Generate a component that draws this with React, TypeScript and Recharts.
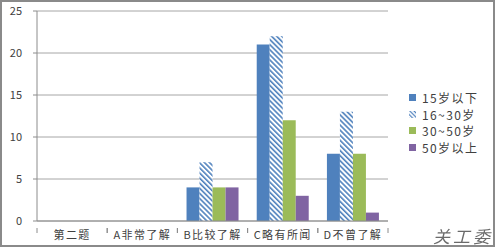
import React from "react";
import { BarChart, Bar, XAxis, YAxis, CartesianGrid } from "recharts";

const categories = ["第二题", "A非常了解", "B比较了解", "C略有所闻", "D不曾了解"];
const under15 = [0, 0, 4, 21, 8];
const age16to30 = [0, 0, 7, 22, 13];
const age30to50 = [0, 0, 4, 12, 8];
const over50 = [0, 0, 4, 3, 1];
const seriesNames = ["15岁以下", "16~30岁", "30~50岁", "50岁以上"];
const yTicks = [0, 5, 10, 15, 20, 25];

const data = categories.map((c, i) => ({
  name: c,
  s1: under15[i],
  s2: age16to30[i],
  s3: age30to50[i],
  s4: over50[i],
}));

const BLUE = "#4F81BD";
const GREEN = "#9BBB59";
const PURPLE = "#8064A2";
const FONT = "'Noto Sans CJK SC', 'Noto Sans', sans-serif";

const fills = [BLUE, "url(#hatch)", GREEN, PURPLE];

const XTick = (props: any) => {
  const { x, y, payload } = props;
  const half = payload && payload.offset ? payload.offset : 35;
  return (
    <g>
      <line x1={x - half} y1={y - 1} x2={x - half} y2={y + 4} stroke="#8c8c8c" />
      <line x1={x + half} y1={y - 1} x2={x + half} y2={y + 4} stroke="#8c8c8c" />
      <text
        x={x}
        y={y + 10}
        textAnchor="middle"
        fontSize={11}
        fill="#404040"
        fontFamily={FONT}
        letterSpacing={1.4}
      >
        {payload.value}
      </text>
    </g>
  );
};

const LegendBox = () => (
  <div
    style={{
      position: "absolute",
      left: 408,
      top: 89,
      fontFamily: FONT,
      fontSize: 12,
      color: "#404040",
    }}
  >
    {seriesNames.map((n, i) => (
      <div key={n} style={{ display: "flex", alignItems: "center", height: 16.7, letterSpacing: 1.4 }}>
        <svg width={9} height={9} style={{ marginRight: 5 }}>
          <defs>
            <pattern id={"hatchSmall" + i} patternUnits="userSpaceOnUse" width={3} height={3} patternTransform="rotate(-45)">
              <rect x={0} y={0} width={3} height={3} fill="#fff" />
              <rect x={0} y={0} width={1.2} height={3} fill={BLUE} />
            </pattern>
          </defs>
          <rect x={1} y={1} width={7} height={7} fill={i === 1 ? "url(#hatchSmall" + i + ")" : fills[i]} />
        </svg>
        <span>{n}</span>
      </div>
    ))}
  </div>
);

export default function App() {
  return (
    <div
      style={{
        position: "fixed",
        left: 0,
        top: 0,
        width: 495,
        height: 247,
        background: "#fff",
      }}
    >
      <BarChart
        width={495}
        height={247}
        data={data}
        margin={{ top: 11, right: 107, bottom: 0, left: 0 }}
        barCategoryGap="13%"
        barGap={0}
      >
        <defs>
          <pattern id="hatch" patternUnits="userSpaceOnUse" width={3.6} height={3.6} patternTransform="rotate(-45)">
            <rect x={0} y={0} width={3.6} height={3.6} fill="#fff" />
            <rect x={0} y={0} width={1.6} height={3.6} fill={BLUE} />
          </pattern>
        </defs>
        <CartesianGrid vertical={false} stroke="#a6a6a6" />
        <XAxis
          dataKey="name"
          height={26}
          axisLine={{ stroke: "#8c8c8c" }}
          tickLine={false}
          tick={<XTick />}
          interval={0}
        />
        <YAxis
          width={37}
          domain={[0, 25]}
          ticks={yTicks}
          axisLine={{ stroke: "#8c8c8c" }}
          tickLine={{ stroke: "#8c8c8c" }}
          tickSize={4}
          tickMargin={11}
          tick={{ fontSize: 11, fill: "#404040", fontFamily: FONT }}
        />
        <Bar dataKey="s1" name={seriesNames[0]} fill={fills[0]} isAnimationActive={false} />
        <Bar dataKey="s2" name={seriesNames[1]} fill={fills[1]} isAnimationActive={false} />
        <Bar dataKey="s3" name={seriesNames[2]} fill={fills[2]} isAnimationActive={false} />
        <Bar dataKey="s4" name={seriesNames[3]} fill={fills[3]} isAnimationActive={false} />
      </BarChart>
      <LegendBox />
      <div
        style={{
          position: "absolute",
          left: 433,
          top: 223,
          fontFamily: "'Noto Sans CJK SC', serif",
          fontSize: 17,
          fontStyle: "italic",
          color: "#6a6a6a",
          letterSpacing: 3,
        }}
      >
        关工委
      </div>
      <div
        style={{
          position: "absolute",
          left: 0,
          top: 0,
          width: 495,
          height: 247,
          boxSizing: "border-box",
          border: "2px solid #8a8a8a",
          pointerEvents: "none",
        }}
      />
    </div>
  );
}
